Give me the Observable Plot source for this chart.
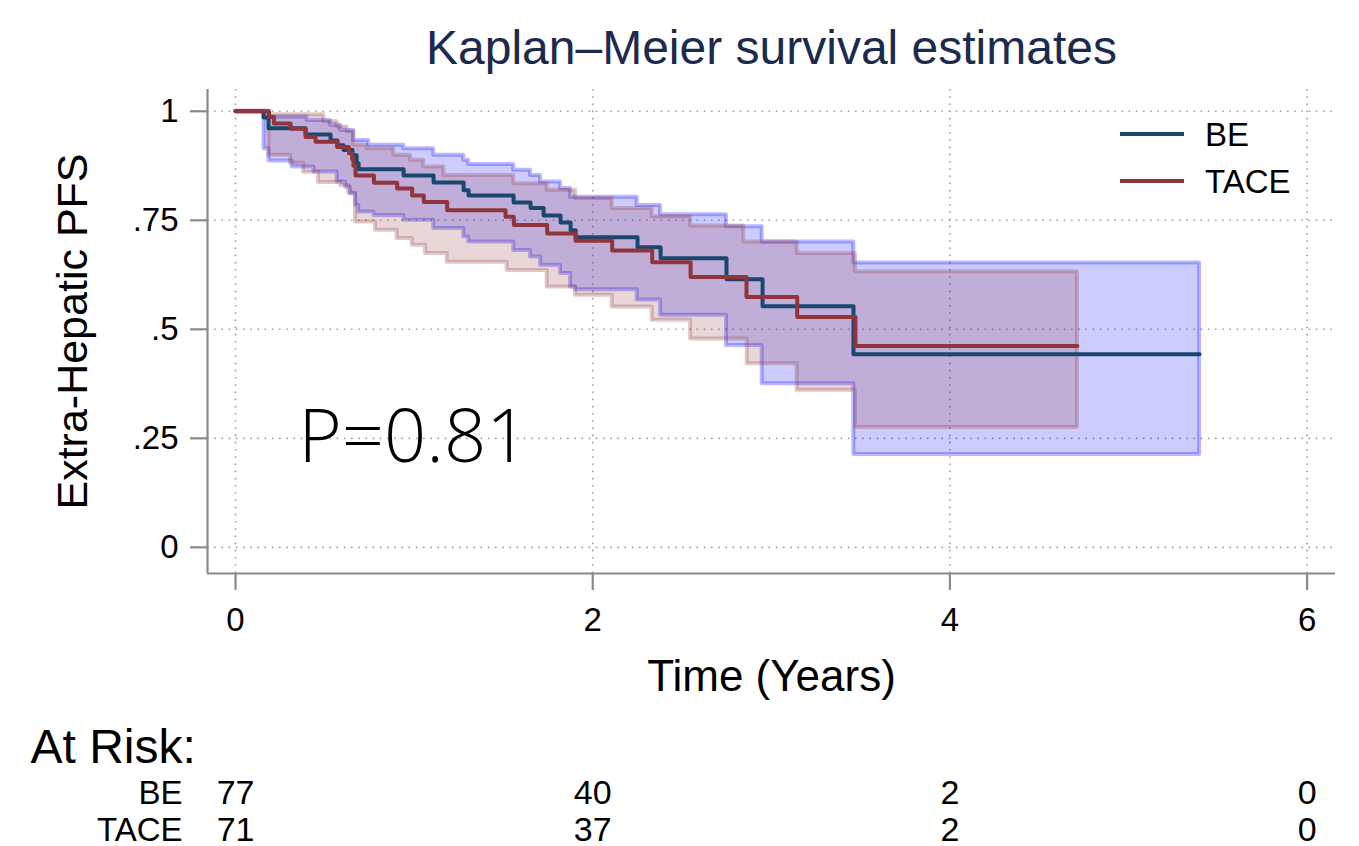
<!DOCTYPE html>
<html><head><meta charset="utf-8">
<script src="https://cdn.jsdelivr.net/npm/d3@7"></script>
<script src="https://cdn.jsdelivr.net/npm/@observablehq/plot@0.6"></script>
<style>
body{margin:0;background:#fff;}
#chart{position:relative;width:1359px;height:846px;}
</style></head><body><div id="chart"></div>
<script>
// ---------- data ----------
const titleText = "Kaplan\u2013Meier survival estimates";
const xLabel = "Time (Years)";
const yLabel = "Extra-Hepatic PFS";
const pText = "P=0.81";
const seriesNames = ["BE", "TACE"];

const xTicks = [0, 2, 4, 6];
const xTickLabels = ["0", "2", "4", "6"];
const yTicks = [0, 0.25, 0.5, 0.75, 1];
const yTickLabels = ["0", ".25", ".5", ".75", "1"];

// BE Kaplan-Meier step estimate
const beTime = [0, 0.157, 0.185, 0.392, 0.532, 0.571, 0.605, 0.655, 0.678, 0.689, 0.941, 1.109, 1.277, 1.305, 1.557, 1.652, 1.725, 1.820, 1.876, 1.904, 2.251, 2.380, 2.749, 2.951, 3.460, 5.398];
const beSurv = [1, 0.986, 0.961, 0.947, 0.933, 0.922, 0.911, 0.899, 0.881, 0.867, 0.853, 0.837, 0.819, 0.807, 0.791, 0.778, 0.761, 0.745, 0.727, 0.711, 0.688, 0.663, 0.615, 0.553, 0.443, 0.443];
// BE confidence band
const beBandTime = [0, 0.160, 0.187, 0.317, 0.401, 0.439, 0.532, 0.569, 0.588, 0.616, 0.644, 0.662, 0.672, 0.690, 0.746, 0.775, 0.942, 1.110, 1.278, 1.306, 1.558, 1.652, 1.708, 1.820, 1.876, 1.904, 2.249, 2.380, 2.749, 2.949, 3.462, 5.398];
const beLo = [1, 0.914, 0.886, 0.872, 0.872, 0.861, 0.861, 0.838, 0.838, 0.826, 0.811, 0.811, 0.784, 0.769, 0.769, 0.761, 0.750, 0.731, 0.712, 0.700, 0.681, 0.666, 0.647, 0.628, 0.597, 0.591, 0.567, 0.532, 0.463, 0.375, 0.213, 0.213];
const beHi = [1, 1, 0.987, 0.987, 0.979, 0.979, 0.968, 0.968, 0.956, 0.956, 0.956, 0.933, 0.933, 0.933, 0.922, 0.922, 0.914, 0.899, 0.888, 0.878, 0.865, 0.853, 0.838, 0.823, 0.803, 0.803, 0.784, 0.763, 0.735, 0.700, 0.652, 0.652];

// TACE Kaplan-Meier step estimate
const taceTime = [0, 0.187, 0.215, 0.308, 0.392, 0.448, 0.569, 0.635, 0.653, 0.660, 0.672, 0.775, 0.905, 0.989, 1.054, 1.185, 1.512, 1.558, 1.745, 1.904, 2.109, 2.333, 2.548, 2.861, 3.145, 3.471, 4.714];
const taceSurv = [1, 0.987, 0.972, 0.960, 0.941, 0.930, 0.918, 0.904, 0.890, 0.875, 0.853, 0.836, 0.823, 0.807, 0.792, 0.773, 0.758, 0.739, 0.720, 0.703, 0.681, 0.654, 0.620, 0.574, 0.528, 0.462, 0.462];
// TACE confidence band
const taceBandTime = [0, 0.187, 0.308, 0.381, 0.465, 0.495, 0.569, 0.588, 0.625, 0.633, 0.662, 0.672, 0.737, 0.784, 0.886, 0.905, 0.980, 0.989, 1.054, 1.064, 1.166, 1.185, 1.521, 1.558, 1.745, 1.904, 2.109, 2.333, 2.548, 2.846, 2.865, 3.145, 3.471, 4.714];
const taceLo = [1, 0.899, 0.881, 0.860, 0.837, 0.837, 0.837, 0.830, 0.830, 0.812, 0.812, 0.746, 0.746, 0.727, 0.727, 0.708, 0.708, 0.693, 0.693, 0.674, 0.674, 0.654, 0.635, 0.635, 0.597, 0.578, 0.551, 0.521, 0.478, 0.478, 0.421, 0.360, 0.275, 0.275];
const taceHi = [1, 0.992, 0.992, 0.992, 0.992, 0.976, 0.964, 0.964, 0.953, 0.953, 0.922, 0.922, 0.914, 0.914, 0.899, 0.899, 0.888, 0.888, 0.872, 0.872, 0.853, 0.853, 0.853, 0.834, 0.819, 0.800, 0.777, 0.758, 0.737, 0.700, 0.700, 0.674, 0.632, 0.632];

// Numbers at risk
const riskTimes = [0, 2, 4, 6];
const riskBE = [77, 40, 2, 0];
const riskTACE = [71, 37, 2, 0];

// ---------- styling / layout ----------
const colBE = "#1a476f", colTACE = "#90353b";
const bandBE = "#0000ff", bandTACE = "#90353b";
const W = 1359, H = 846;
const mL = 207, mR = 24, mT = 89, mB = 273;
const xDomain = [-0.157, 6.159], yDomain = [-0.06, 1.05];
const axisGray = "#8a8a8a";
const font = "'Liberation Sans', Arial, Helvetica, sans-serif";
const tickFont = 33;

const beLine = beTime.map((t, i) => ({t, s: beSurv[i]}));
const taceLine = taceTime.map((t, i) => ({t, s: taceSurv[i]}));
const beBand = beBandTime.map((t, i) => ({t, lo: beLo[i], hi: beHi[i]}));
const taceBand = taceBandTime.map((t, i) => ({t, lo: taceLo[i], hi: taceHi[i]}));
const riskRowsBE = riskTimes.map((t, i) => ({t, n: riskBE[i]}));
const riskRowsTACE = riskTimes.map((t, i) => ({t, n: riskTACE[i]}));

const gridStyle = {stroke: "#a0a0a0", strokeWidth: 1.6, strokeDasharray: "1.6,5.6"};

const plot = Plot.plot({
  width: W, height: H,
  marginLeft: mL, marginRight: mR, marginTop: mT, marginBottom: mB,
  style: {fontFamily: font, fontSize: tickFont + "px", color: "#000", background: "#fff", overflow: "visible"},
  x: {domain: xDomain},
  y: {domain: yDomain},
  marks: [
    Plot.ruleY(yTicks, gridStyle),
    Plot.ruleX(xTicks, gridStyle),
    Plot.areaY(beBand, {x: "t", y1: "lo", y2: "hi", curve: "step-after", fill: bandBE, fillOpacity: 0.2, stroke: bandBE, strokeOpacity: 0.28, strokeWidth: 4}),
    Plot.areaY(taceBand, {x: "t", y1: "lo", y2: "hi", curve: "step-after", fill: bandTACE, fillOpacity: 0.2, stroke: bandTACE, strokeOpacity: 0.28, strokeWidth: 4}),
    Plot.line(beLine, {x: "t", y: "s", curve: "step-after", stroke: colBE, strokeWidth: 4}),
    Plot.line(taceLine, {x: "t", y: "s", curve: "step-after", stroke: colTACE, strokeWidth: 4}),
    Plot.ruleX([xDomain[0]], {stroke: axisGray, strokeWidth: 2.2}),
    Plot.ruleY([yDomain[0]], {stroke: axisGray, strokeWidth: 2.2}),
    Plot.axisX({ticks: xTicks, tickFormat: d => xTickLabels[xTicks.indexOf(d)], tickSize: 17, tickPadding: 17, stroke: axisGray, strokeWidth: 2.2, label: null, fontSize: tickFont}),
    Plot.axisY({ticks: yTicks, tickFormat: d => yTickLabels[yTicks.indexOf(d)], tickSize: 17, tickPadding: 12, stroke: axisGray, strokeWidth: 2.2, label: null, fontSize: tickFont}),
    // titles
    Plot.text([titleText], {text: d => d, frameAnchor: "top", dy: -26, lineAnchor: "bottom", fontSize: 48, fill: "#1c2a4d"}),
    Plot.text([xLabel], {text: d => d, frameAnchor: "bottom", dy: 117, lineAnchor: "bottom", fontSize: 44}),
    Plot.text([yLabel], {text: d => d, frameAnchor: "left", rotate: -90, dx: -134, textAnchor: "middle", lineAnchor: "middle", fontSize: 43}),
    // annotation
    Plot.text([pText], {text: d => d, frameAnchor: "bottom-left", dx: 91, dy: -112, textAnchor: "start", lineAnchor: "bottom", fontSize: 74, fontFamily: "'Open Sans', 'Noto Sans', sans-serif", fontWeight: 300}),
    // at-risk table
    Plot.text(["At Risk:"], {text: d => d, frameAnchor: "bottom-left", dx: -177, dy: 189, textAnchor: "start", lineAnchor: "bottom", fontSize: 48}),
    Plot.text([seriesNames[0]], {text: d => d, frameAnchor: "bottom-left", dx: -25, dy: 230, textAnchor: "end", lineAnchor: "bottom", fontSize: 33}),
    Plot.text([seriesNames[1]], {text: d => d, frameAnchor: "bottom-left", dx: -25, dy: 267, textAnchor: "end", lineAnchor: "bottom", fontSize: 33}),
    Plot.text(riskRowsBE, {x: "t", text: "n", frameAnchor: "bottom", dy: 230, lineAnchor: "bottom", fontSize: 34}),
    Plot.text(riskRowsTACE, {x: "t", text: "n", frameAnchor: "bottom", dy: 267, lineAnchor: "bottom", fontSize: 34})
  ]
});

// legend (inside plot, top right)
const svg = d3.select(plot);
const lg = svg.append("g").attr("font-family", font).attr("font-size", 33).attr("text-anchor", "start");
const legendItems = [{name: seriesNames[0], color: colBE}, {name: seriesNames[1], color: colTACE}];
legendItems.forEach((it, i) => {
  const y = 134 + i * 47;
  lg.append("line").attr("x1", 1120).attr("x2", 1184).attr("y1", y).attr("y2", y)
    .attr("stroke", it.color).attr("stroke-width", 4);
  lg.append("text").attr("x", 1205).attr("y", y).attr("dy", "0.36em").attr("fill", "#000").text(it.name);
});

document.getElementById("chart").appendChild(plot);
</script>
</body></html>
